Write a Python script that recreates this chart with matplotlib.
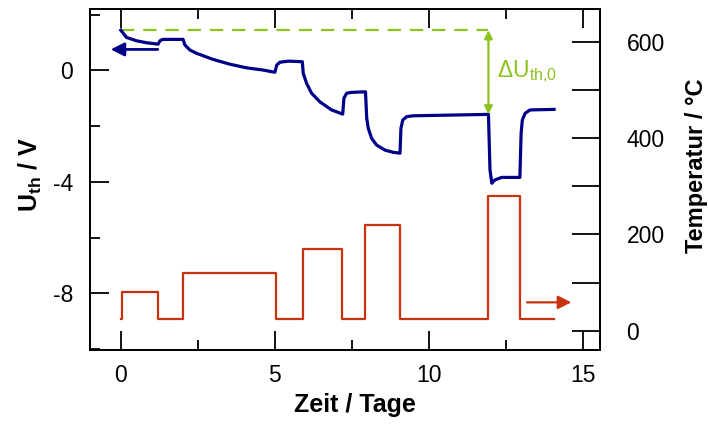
import matplotlib
matplotlib.use("Agg")
import matplotlib.pyplot as plt
from matplotlib.ticker import MultipleLocator

plt.rcParams["font.family"] = ["Liberation Sans", "DejaVu Sans"]
plt.rcParams["mathtext.fontset"] = "custom"
plt.rcParams["mathtext.rm"] = "Liberation Sans"
plt.rcParams["mathtext.default"] = "regular"
plt.rcParams["axes.unicode_minus"] = False

# Thermospannung (linke Achse)
t_u = [0.00, 0.185, 0.51, 0.83, 1.21, 1.27, 1.36, 2.02, 2.08, 2.24, 2.46, 3.00,
       3.54, 4.08, 4.62, 5.00, 5.06, 5.16, 5.43, 5.89, 5.92, 6.03, 6.19, 6.46,
       6.84, 7.20, 7.24, 7.33, 7.49, 7.94, 7.98, 8.03, 8.14, 8.30, 8.57, 8.84,
       9.06, 9.09, 9.15, 9.28, 9.49, 10.46, 11.93, 11.98, 12.04, 12.14, 12.36,
       12.95, 12.99, 13.03, 13.12, 13.28, 14.06]
u_th = [1.44, 1.18, 1.06, 0.99, 0.94, 1.06, 1.11, 1.11, 0.91, 0.73, 0.61, 0.39,
        0.22, 0.09, 0.01, -0.07, 0.19, 0.29, 0.33, 0.31, -0.11, -0.47, -0.82, -1.13,
        -1.42, -1.57, -1.00, -0.82, -0.79, -0.77, -1.72, -2.08, -2.44, -2.68, -2.86, -2.94,
        -2.97, -2.08, -1.78, -1.66, -1.63, -1.61, -1.58, -3.57, -4.05, -3.93, -3.84,
        -3.84, -2.26, -1.78, -1.54, -1.42, -1.40]

# Temperaturprogramm (rechte Achse), Stufen
t_step = [0.00, 0.04, 1.21, 2.01, 5.02, 5.90, 7.19, 7.94, 9.06, 11.92, 12.95, 14.06]
temp = [25, 80, 25, 120, 25, 170, 25, 220, 25, 280, 25, 25]

u_start = 1.44          # Anfangswert der Thermospannung
t_ref = 11.93           # Zeitpunkt der Differenzmessung
u_ref = -1.58           # Spannung vor dem letzten Heizschritt

x_ticks = [0, 5, 10, 15]
u_ticks = [-8, -4, 0]
temp_ticks = [0, 200, 400, 600]

blue = "#000088"
red = "#c8320c"
green = "#8dc21f"

fig = plt.figure(figsize=(7.08, 4.28), dpi=100)
ax = fig.add_axes([90 / 708, 1 - 350 / 428, 510 / 708, 341 / 428])
ax2 = ax.twinx()

ax.plot(t_u, u_th, color=blue, lw=2.3, solid_joinstyle="round", zorder=3)
ax.plot([0, t_ref], [u_start, u_start], color=green, lw=1.6, ls=(0, (6, 4)))
ax.annotate("", xy=(t_ref, u_ref), xytext=(t_ref, u_start),
            arrowprops=dict(arrowstyle="<|-|>", color=green, lw=1.6,
                            mutation_scale=12, shrinkA=0, shrinkB=0))
ax.text(12.22, -0.05, "ΔU$_{th{,}0}$", color=green, fontsize=16.5,
        ha="left", va="center")
ax.annotate("", xy=(-0.33, 0.75), xytext=(1.2, 0.75),
            arrowprops=dict(arrowstyle="-|>", color=blue, lw=2,
                            mutation_scale=20, shrinkA=0, shrinkB=0))

ax2.step(t_step, temp, where="post", color=red, lw=1.6)
ax2.annotate("", xy=(14.62, 59), xytext=(13.18, 59),
             arrowprops=dict(arrowstyle="-|>", color=red, lw=1.6,
                             mutation_scale=20, shrinkA=0, shrinkB=0))

ax.set_xlim(-1.0, 15.55)
ax.set_ylim(-10.03, 2.2)
ax2.set_ylim(-40, 668.5)

ax.set_xticks(x_ticks)
ax.set_yticks(u_ticks)
ax.xaxis.set_minor_locator(MultipleLocator(2.5))
ax.yaxis.set_minor_locator(MultipleLocator(2))
ax2.set_yticks(temp_ticks)
ax2.yaxis.set_minor_locator(MultipleLocator(100))

for a in (ax, ax2):
    for s in a.spines.values():
        s.set_linewidth(1.3)

ax.tick_params(axis="x", which="major", direction="in", length=14, width=1.3,
               top=True, labelsize=16.5, pad=10)
ax.tick_params(axis="x", which="minor", direction="in", length=7, width=1.3,
               top=True)
ax.tick_params(axis="y", which="major", direction="in", length=14, width=1.3,
               labelsize=16.5, pad=12)
ax.tick_params(axis="y", which="minor", direction="in", length=7, width=1.3)
ax2.tick_params(axis="y", which="both", direction="in", length=20, width=1.3,
                labelsize=16.5, pad=19)

ax.set_xlabel("Zeit / Tage", fontsize=18, fontweight="bold")
ax.xaxis.set_label_coords(0.519, -0.161)
ax.xaxis.label.set_va("center")
ax.set_ylabel("U$_{th}$ / V", fontsize=18, fontweight="bold")
ax.yaxis.set_label_coords(-0.116, 0.513)
ax.yaxis.label.set_va("center")
ax2.set_ylabel("Temperatur / °C", fontsize=17, fontweight="bold")
ax2.yaxis.set_label_coords(1.19, 0.54)
ax2.yaxis.label.set_va("center")

fig.savefig("out.png", dpi=100)
